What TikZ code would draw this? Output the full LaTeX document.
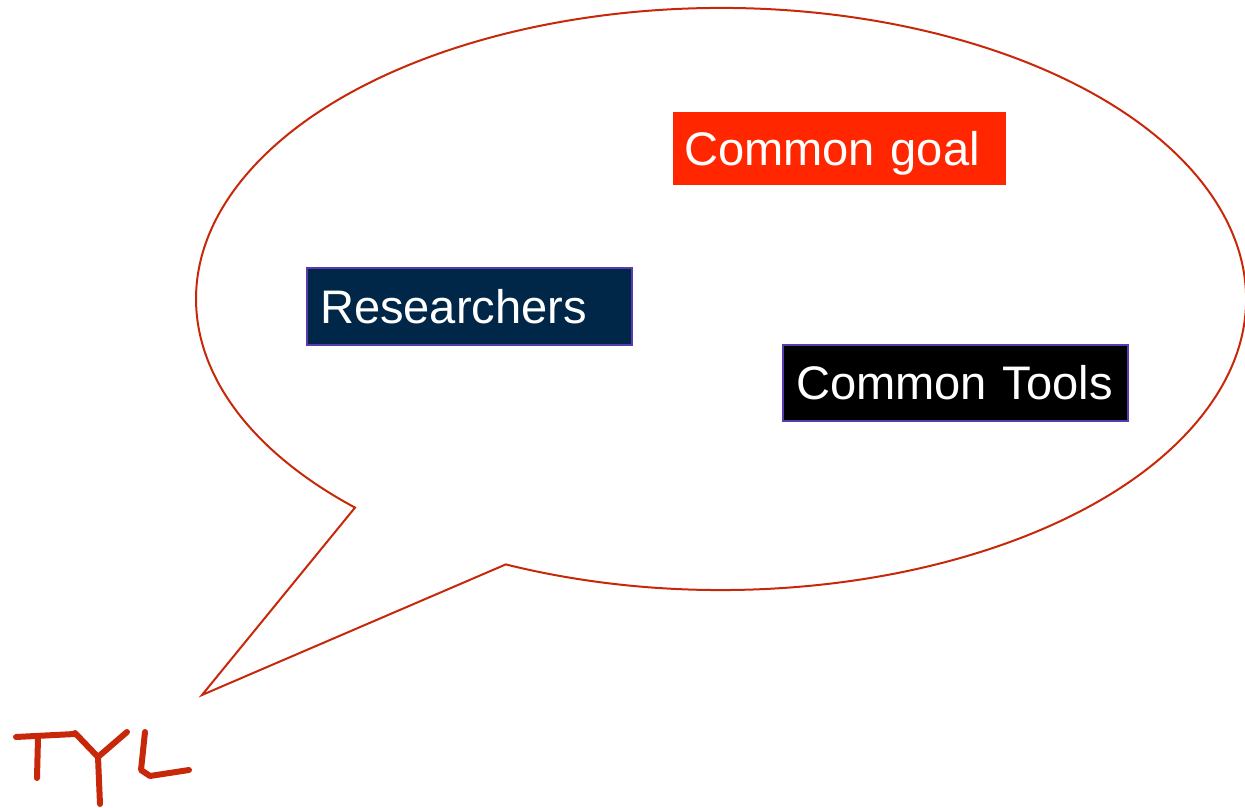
\documentclass[tikz,border=0pt]{standalone}
\usepackage{fontspec}
\setmainfont{Liberation Sans}
\usetikzlibrary{calc}
\definecolor{bubblered}{RGB}{200,40,10}
\definecolor{goalred}{RGB}{255,38,0}
\definecolor{navyblue}{RGB}{0,38,72}
\definecolor{boxpurple}{RGB}{88,60,175}
\tikzset{
	labelbox/.style={inner ysep=0pt, align=left, text=white, font=\fontsize{26.8}{30}\selectfont, text height=24.1pt, text depth=4.9pt},
	pen/.style={line width=0.12cm, color=bubblered, line cap=round, line join=round},
}

\begin{document}
\begin{tikzpicture}[x=0.02cm, y=0.02cm]
		%%%%% START %%%%%
		\useasboundingbox (0, 0) rectangle (1245, 808);
		
		% speech bubble
		\draw[line width=0.04cm, color=bubblered] (721, 509) ++(245.8:525 and 291) arc[start angle=245.8, end angle=585.8, x radius=525, y radius=291] -- (202, 113) -- cycle;
		
		\node[labelbox, fill=goalred, minimum width=6.66cm, minimum height=1.46cm, inner xsep=0.22cm, text width=6.22cm] (goal) at (839.5, 659.5) {Common~goal};
		\node[labelbox, fill=navyblue, draw=boxpurple, line width=0.05cm, minimum width=6.5cm, minimum height=1.54cm, inner xsep=0.26cm, text width=5.98cm] (researchers) at (469.5, 501.5) {Researchers};
		\node[labelbox, fill=black, draw=boxpurple, line width=0.05cm, minimum width=6.9cm, minimum height=1.52cm, inner xsep=0.26cm, text width=6.38cm] (tools) at (955.5, 425) {Common~Tools};
		
		% TYL
		\draw[pen] (16, 71) -- (75, 74);
		\draw[pen] (38, 70) -- (37, 30);
		\draw[pen] (75, 75) -- (98, 51) -- (127, 76);
		\draw[pen] (98, 51) -- (100, 4);
		\draw[pen] (145, 76) -- (141, 38) -- (150, 32) -- (189, 38);
		
		%%%%% END %%%%%
	\end{tikzpicture}
\end{document}
